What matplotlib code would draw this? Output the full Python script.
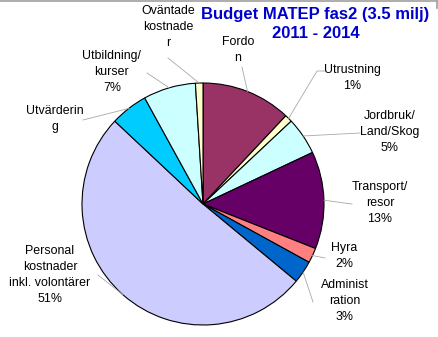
import numpy as np
import matplotlib
matplotlib.use("Agg")
import matplotlib.pyplot as plt
from matplotlib.lines import Line2D

# ---- data (clockwise from 12 o'clock) ----
labels = ["Fordo\nn", "Utrustning", "Jordbruk/\nLand/Skog", "Transport/\nresor",
          "Hyra", "Administ\nration", "Personal\nkostnader\ninkl. volontärer",
          "Utvärderin\ng", "Utbildning/\nkurser", "Oväntade\nkostnade\nr"]
values = [12, 1, 5, 13, 2, 3, 51, 5, 7, 1]
show_pct = [False, True, True, True, True, True, True, False, True, False]
colors = ["#993366", "#FFFFCC", "#CCFFFF", "#660066", "#FF8080", "#0066CC",
          "#CCCCFF", "#00CCFF", "#CCFFFF", "#FFFFCC"]
title_lines = ["Budget MATEP fas2 (3.5 milj)", "2011 - 2014"]

# ---- layout (pixels) ----
W, H = 439, 337
CX, CY, R = 203, 204, 121
label_pos = [(238, 50), (352, 78), (390, 132), (380, 203), (344, 256),
             (345, 301), (50, 275), (55, 119), (112, 72), (168, 27)]
line_end = [(242, 67), (317, 71), (360, 133), (352, 204), (325, 258),
            (313, 302), (98, 275), (83, 120), (147, 73), (168, 58)]
title_pos = [(315, 15), (316, 33)]

def px(p):
    return ((p[0] - CX) / R, (CY - p[1]) / R)

fig = plt.figure(figsize=(W / 100, H / 100), dpi=100)
ax = fig.add_axes([0, 0, 1, 1])
wedges, _ = ax.pie(values, colors=colors, startangle=90, counterclock=False,
                   radius=1.0, wedgeprops=dict(edgecolor="black", linewidth=0.8))
ax.set_xlim(-CX / R, (W - CX) / R)
ax.set_ylim(-(H - CY) / R, CY / R)
ax.set_aspect("auto")
ax.axis("off")

font = "Liberation Sans"
total = sum(values)
for w, lab, v, sp, lp, le in zip(wedges, labels, values, show_pct, label_pos, line_end):
    ang = np.deg2rad((w.theta1 + w.theta2) / 2)
    x0, y0 = np.cos(ang), np.sin(ang)
    x1, y1 = px(le)
    xs, ys = [x0, x1], [y0, y1]
    if lab == "Utrustning":
        x2, _y = px((325, 71))
        xs.append(x2); ys.append(y1)
    ax.plot(xs, ys, color="#A8A8A8", lw=0.6, zorder=1)
    txt = lab + (f"\n{100 * v / total:.0f}%" if sp else "")
    tx, ty = px(lp)
    ax.text(tx, ty, txt, ha="center", va="center", fontsize=8.9,
            family=font, color="black", linespacing=1.42)

for line, tp in zip(title_lines, title_pos):
    tx, ty = px(tp)
    ax.text(tx, ty, line, ha="center", va="center", fontsize=12,
            fontweight="bold", family=font, color="#0000CC")

# thin gray frame remnant at top
fig.add_artist(Line2D([0, 437 / W], [1 - 0.5 / H, 1 - 0.5 / H], color="#A0A0A0", lw=1.2,
                      transform=fig.transFigure))
fig.add_artist(Line2D([437 / W, 437 / W], [1, 1 - 8 / H], color="#A0A0A0", lw=1.2,
                      transform=fig.transFigure))

fig.savefig("out.png", dpi=100)
